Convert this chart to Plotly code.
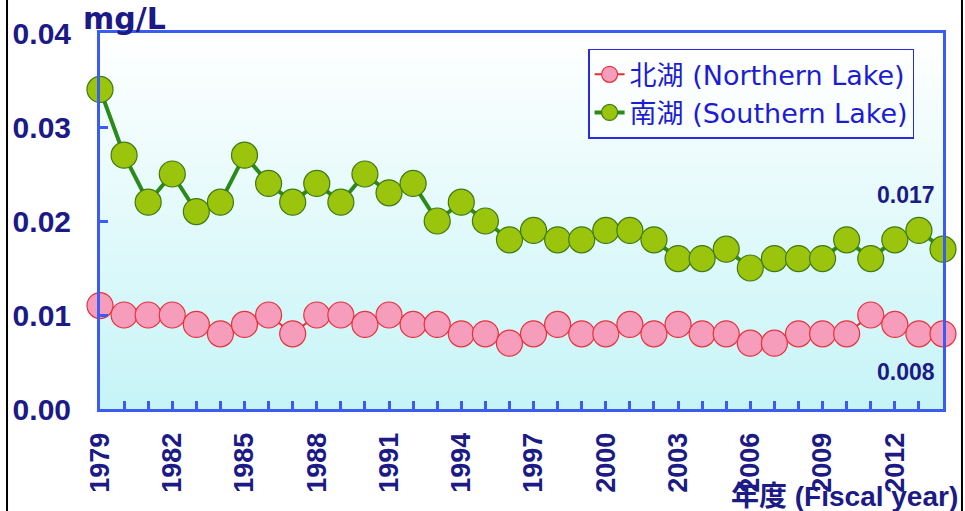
import plotly.graph_objects as go

# Fiscal years and annual mean concentrations (mg/L)
years = list(range(1979, 2015))
label_years = [1979, 1982, 1985, 1988, 1991, 1994, 1997, 2000, 2003, 2006, 2009, 2012]
north_lake = [0.011, 0.010, 0.010, 0.010, 0.009, 0.008, 0.009, 0.010, 0.008, 0.010,
              0.010, 0.009, 0.010, 0.009, 0.009, 0.008, 0.008, 0.007, 0.008, 0.009,
              0.008, 0.008, 0.009, 0.008, 0.009, 0.008, 0.008, 0.007, 0.007, 0.008,
              0.008, 0.008, 0.010, 0.009, 0.008, 0.008]
south_lake = [0.034, 0.027, 0.022, 0.025, 0.021, 0.022, 0.027, 0.024, 0.022, 0.024,
              0.022, 0.025, 0.023, 0.024, 0.020, 0.022, 0.020, 0.018, 0.019, 0.018,
              0.018, 0.019, 0.019, 0.018, 0.016, 0.016, 0.017, 0.015, 0.016, 0.016,
              0.016, 0.018, 0.016, 0.018, 0.019, 0.017]
y_ticks = [0.00, 0.01, 0.02, 0.03, 0.04]

NAVY = "#1c1a86"
AXIS_BLUE = "#3a5cf2"
LEGEND_BLUE = "#1c1cd4"
LATIN = "Liberation Sans, Arial, Noto Sans CJK JP"
WIDE = "DejaVu Sans, Noto Sans CJK JP"

fig = go.Figure()

fig.add_trace(go.Scatter(
    x=years, y=north_lake, mode="lines+markers",
    name="北湖 (Northern Lake)",
    line=dict(color="#ee2a35", width=2),
    marker=dict(size=26, color="#f59dba", line=dict(color="#e8323c", width=1.2)),
    cliponaxis=False,
))
fig.add_trace(go.Scatter(
    x=years, y=south_lake, mode="lines+markers",
    name="南湖 (Southern Lake)",
    line=dict(color="#2a8a1a", width=4),
    marker=dict(size=26, color="#9bc40c", line=dict(color="#3f7a12", width=1.2)),
    cliponaxis=False,
))

# Vertical gradient in the plotting area: white at the top, pale cyan at the bottom
n_bands = 60
top_rgb = (255, 255, 255)
bot_rgb = (198, 244, 247)
shapes = []
for i in range(n_bands):
    t = i / (n_bands - 1)
    r = round(bot_rgb[0] + (top_rgb[0] - bot_rgb[0]) * t)
    g = round(bot_rgb[1] + (top_rgb[1] - bot_rgb[1]) * t)
    b = round(bot_rgb[2] + (top_rgb[2] - bot_rgb[2]) * t)
    shapes.append(dict(
        type="rect", xref="x domain", yref="y domain",
        x0=0, x1=1, y0=i / n_bands, y1=(i + 1) / n_bands + 0.002,
        fillcolor=f"rgb({r},{g},{b})", line=dict(width=0), layer="below",
    ))

# Thin black rules at the left and right edges of the figure
for xp in (-0.1103, 1.0225):
    shapes.append(dict(
        type="line", xref="paper", yref="paper",
        x0=xp, x1=xp, y0=-0.3, y1=1.12,
        line=dict(color="black", width=2), layer="above",
    ))

fig.update_layout(
    width=965, height=511,
    margin=dict(l=100, r=22, t=33, b=102),
    paper_bgcolor="white",
    plot_bgcolor="rgba(0,0,0,0)",
    shapes=shapes,
    showlegend=True,
    legend=dict(
        x=0.579, y=0.958, xanchor="left", yanchor="top",
        bgcolor="rgba(255,255,255,0.55)",
        bordercolor="#2a2ae0", borderwidth=1.5,
        font=dict(family=WIDE, size=27, color=LEGEND_BLUE),
        itemsizing="trace", tracegroupgap=0, itemwidth=30,
    ),
    xaxis=dict(
        range=[1979, 2014],
        tickmode="array", tickvals=years,
        ticktext=[str(y) if y in label_years else "" for y in years],
        tickangle=-90,
        ticks="inside", ticklen=8, tickwidth=3, tickcolor=AXIS_BLUE,
        showline=True, linecolor=AXIS_BLUE, linewidth=3, mirror=True,
        showgrid=False, zeroline=False,
        tickfont=dict(family=LATIN, size=27, color=NAVY, weight=700),
        ticklabelstandoff=10,
    ),
    yaxis=dict(
        range=[0, 0.04],
        tickmode="array", tickvals=y_ticks,
        ticktext=[f"{v:.2f}" for v in y_ticks],
        ticks="inside", ticklen=8, tickwidth=3, tickcolor=AXIS_BLUE,
        showline=True, linecolor=AXIS_BLUE, linewidth=3, mirror=True,
        showgrid=False, zeroline=False,
        tickfont=dict(family=LATIN, size=30, color=NAVY, weight=700),
        ticklabelstandoff=20,
    ),
)

# Unit label above the y axis
fig.add_annotation(
    text="mg/L", xref="paper", yref="paper", x=-0.022, y=1.0,
    xanchor="left", yanchor="bottom", yshift=-5, showarrow=False,
    font=dict(family=WIDE, size=30, color=NAVY, weight=700),
)
# Axis title at the lower right
fig.add_annotation(
    text="年度 (Fiscal year)", xref="paper", yref="paper", x=1.02, y=-0.234,
    xanchor="right", yanchor="middle", showarrow=False,
    font=dict(family=LATIN, size=28, color=NAVY, weight=700),
)
# Latest-year values
fig.add_annotation(
    text=f"{south_lake[-1]:.3f}", x=years[-1], y=south_lake[-1],
    xanchor="right", yanchor="middle", xshift=-6, yshift=54, showarrow=False,
    font=dict(family=LATIN, size=23, color=NAVY, weight=700),
)
fig.add_annotation(
    text=f"{north_lake[-1]:.3f}", x=years[-1], y=north_lake[-1],
    xanchor="right", yanchor="middle", xshift=-6, yshift=-38, showarrow=False,
    font=dict(family=LATIN, size=23, color=NAVY, weight=700),
)

fig.write_html("out.html")
